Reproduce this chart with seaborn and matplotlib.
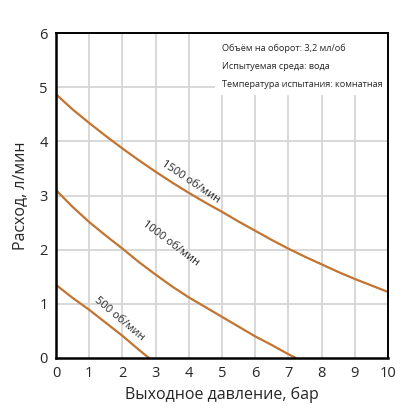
import matplotlib
matplotlib.use("Agg")
import matplotlib.pyplot as plt
import seaborn as sns
import pandas as pd

# flow vs outlet pressure
p_1500 = [0, 0.5, 1, 1.5, 2, 2.5, 3, 3.5, 4, 4.5, 5, 5.5, 6, 6.5, 7, 7.5, 8, 8.5, 9, 9.5, 10]
q_1500 = [4.87, 4.59, 4.34, 4.1, 3.87, 3.65, 3.44, 3.24, 3.05, 2.87, 2.7, 2.52, 2.35,
          2.18, 2.02, 1.87, 1.73, 1.59, 1.46, 1.34, 1.22]
p_1000 = [0, 0.5, 1, 1.5, 2, 2.5, 3, 3.5, 4, 4.5, 5, 5.5, 6, 6.5, 7, 7.23]
q_1000 = [3.1, 2.79, 2.51, 2.26, 2.02, 1.77, 1.54, 1.32, 1.12, 0.94, 0.76, 0.58, 0.40,
          0.24, 0.07, 0.0]
p_500 = [0, 0.5, 1, 1.5, 2, 2.5, 2.8]
q_500 = [1.35, 1.11, 0.89, 0.65, 0.41, 0.15, 0.0]

curve_labels = ["1500 об/мин", "1000 об/мин", "500 об/мин"]
info_lines = ["Объём на оборот: 3,2 мл/об",
              "Испытуемая среда: вода",
              "Температура испытания: комнатная"]

frames = []
for lab, p, q in zip(curve_labels, [p_1500, p_1000, p_500], [q_1500, q_1000, q_500]):
    frames.append(pd.DataFrame({"p": p, "q": q, "rpm": lab}))
df = pd.concat(frames)

sns.set_style("white")
plt.rcParams["font.family"] = ["Open Sans", "DejaVu Sans"]

fig = plt.figure(figsize=(4.18, 4.19), dpi=100)
ax = fig.add_axes([0.134, 0.1456, 0.794, 0.7754])

col = "#c27430"
sns.lineplot(data=df, x="p", y="q", hue="rpm", palette=[col] * 3,
             legend=False, ax=ax, linewidth=1.6, sort=False)

ax.set_xlim(0, 10)
ax.set_ylim(0, 6)
ax.set_xticks(range(0, 11))
ax.set_yticks(range(0, 7))
# grid drawn by hand-free axhline/axvline at tick positions so both directions show
for v in range(1, 10):
    ax.axvline(v, color="#d6d6d6", linewidth=1.3, zorder=0)
for v in range(1, 6):
    ax.axhline(v, color="#d6d6d6", linewidth=1.3, zorder=0)
for s in ["left", "bottom"]:
    ax.spines[s].set_linewidth(1.8)
    ax.spines[s].set_color("black")
for s in ["top", "right"]:
    ax.spines[s].set_linewidth(1.4)
    ax.spines[s].set_color("black")
ax.tick_params(labelsize=10.5, length=0, pad=6)
ax.set_xlabel("Выходное давление, бар", fontsize=11.5, labelpad=4)
ax.set_ylabel("Расход, л/мин", fontsize=11.5, labelpad=8)

# info box in upper right
ax.add_patch(plt.Rectangle((4.8, 4.85), 5.2, 1.15, facecolor="white",
                           edgecolor="none", zorder=2))
for i, t in enumerate(info_lines):
    ax.text(5.0, 5.72 - i * 0.33, t, fontsize=6.6, va="center", ha="left", zorder=3)

# curve labels
ax.text(4.05, 3.25, curve_labels[0], rotation=-34, fontsize=8, ha="center", va="center")
ax.text(3.45, 2.12, curve_labels[1], rotation=-37, fontsize=8, ha="center", va="center")
ax.text(1.9, 0.72, curve_labels[2], rotation=-40, fontsize=8, ha="center", va="center")

fig.savefig("out.png", dpi=100)
